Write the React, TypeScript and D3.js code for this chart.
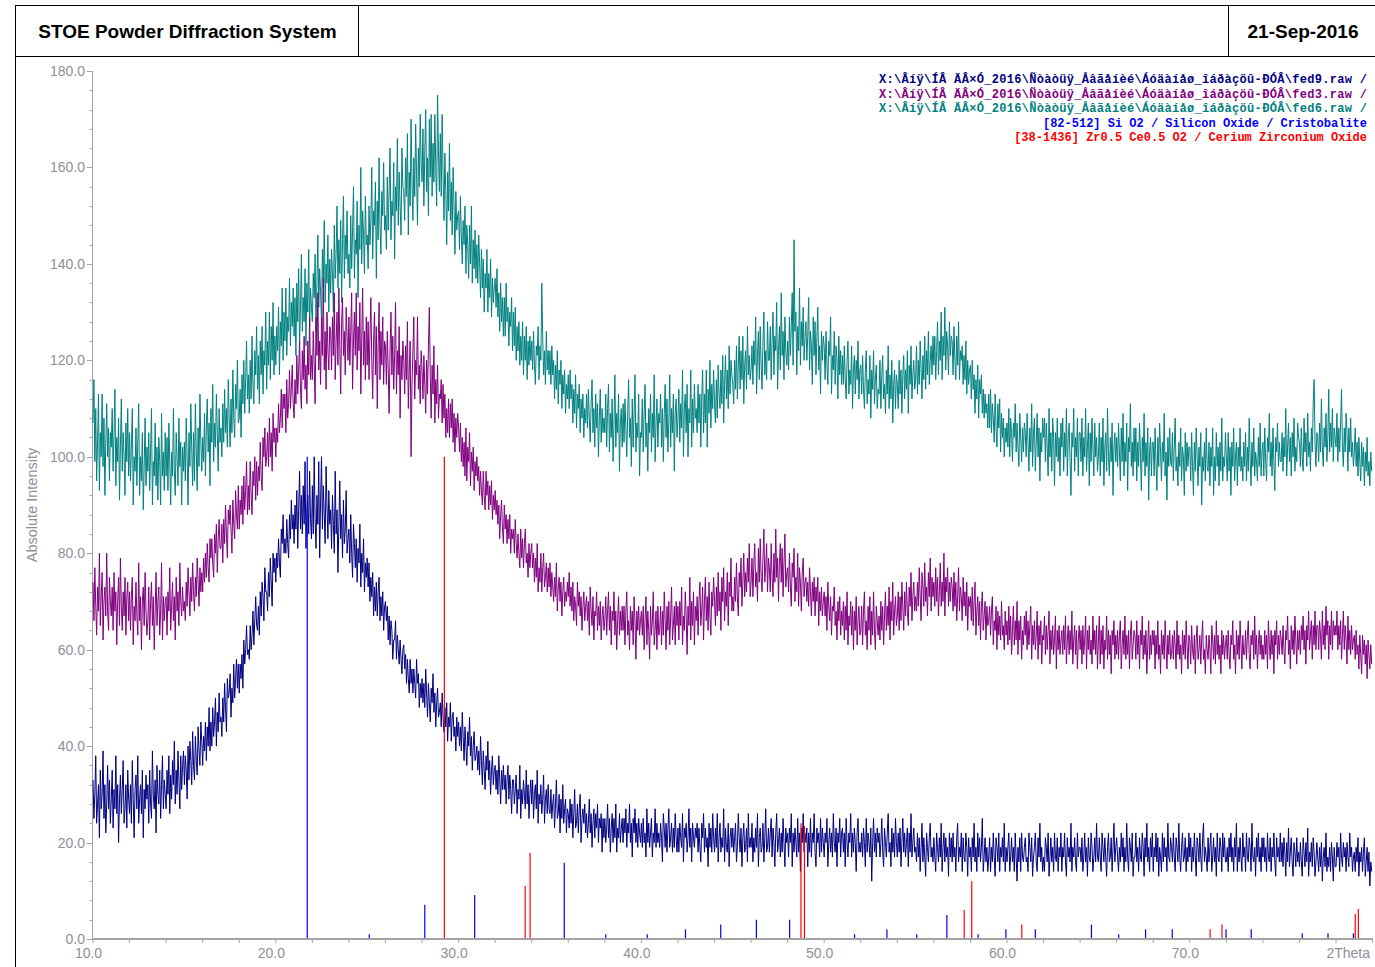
import React from "react";
import * as d3 from "d3";

// Each row = one degree of 2Theta, starting at 10.0; values sampled evenly within the degree.
const FIRST_DEG = 10;

// fed9.raw (navy)
const FED9: number[][] = [
[33,25,30,38,24,28,32,21,35,27,30,39,25,32,22,28,36,27,33,24],
[29,35,23,31,27,38,26,32,20,29,34,26,31,37,24,27,32,23,35,29],
[26,32,24,37,29,21,31,34,27,38,24,29,32,26,35,21,31,27,34,29],
[32,24,35,28,25,39,30,27,33,22,36,30,28,35,25,32,38,27,33,30],
[27,35,30,38,26,34,29,37,32,41,28,35,30,39,33,27,38,31,36,39],
[32,38,35,29,40,33,41,37,32,43,36,33,42,37,34,44,39,36,45,41],
[36,42,39,45,37,44,40,48,39,45,40,48,42,45,50,40,47,43,51,45],
[46,42,50,45,53,48,43,54,50,51,55,46,52,49,57,50,54,58,52,57],
[51,57,54,59,52,62,57,60,65,59,60,58,65,60,63,68,61,66,71,65],
[64,69,63,72,67,74,71,66,77,72,72,68,76,71,79,74,69,80,76,79],
[74,80,77,83,78,75,85,82,88,80,83,80,87,82,79,88,83,91,85,88],
[82,90,85,93,81,89,97,85,92,84,94,86,99,81,89,92,84,97,87,83],
[94,84,100,87,81,92,86,99,79,91,100,85,94,88,82,98,90,83,93,86],
[89,81,92,86,80,97,84,89,76,86,95,83,88,79,91,82,85,93,80,83],
[85,78,88,80,75,86,82,77,83,74,81,78,86,73,80,76,83,72,78,75],
[79,73,78,70,75,71,76,67,73,68,74,67,72,75,66,71,67,72,64,69],
[70,66,69,62,67,61,66,64,58,62,62,66,58,63,60,57,62,58,55,60],
[61,56,59,53,58,54,51,58,53,56,51,56,53,50,58,53,55,48,53,50],
[54,49,53,48,56,51,46,53,49,45,52,49,55,47,51,44,49,52,46,47],
[49,44,51,46,43,48,44,49,41,46,44,49,41,46,47,42,44,39,46,42],
[45,40,44,39,47,42,37,44,40,36,43,40,46,38,42,35,40,43,37,38],
[40,35,39,34,42,37,32,39,35,31,38,35,41,33,37,30,35,38,32,35],
[36,31,35,30,38,33,28,35,31,36,31,34,28,33,36,29,34,31,26,33],
[33,28,31,34,26,31,29,36,25,31,28,33,30,27,35,28,32,25,30,33],
[28,33,25,30,32,27,35,24,30,28,32,26,29,34,24,29,31,26,32,27],
[26,31,25,28,30,23,28,33,25,26,30,22,29,25,32,24,27,29,22,27],
[26,23,29,24,28,21,26,31,23,24,28,22,27,30,20,25,27,24,28,22],
[26,21,24,29,22,26,19,24,27,21,26,23,28,20,25,23,26,18,25,21],
[25,20,23,28,21,25,18,23,26,20,25,21,28,18,23,21,26,20,23,25],
[20,25,22,27,19,24,22,28,20,24,17,25,22,27,20,24,19,25,22,20],
[24,19,25,20,22,17,27,20,24,19,22,25,17,22,20,27,19,24,20,22],
[19,24,21,16,26,23,19,24,18,23,27,19,21,24,18,23,19,26,21,18],
[23,18,24,21,19,26,16,23,21,24,18,21,27,19,23,16,24,21,19,23],
[21,24,18,23,19,16,24,21,26,18,23,19,21,15,24,19,23,18,26,21],
[18,23,19,26,16,21,24,18,21,19,27,16,23,19,18,24,15,21,23,19],
[23,18,21,24,16,19,26,21,18,23,15,21,24,18,19,23,16,26,19,21],
[19,24,16,21,18,23,19,26,15,21,23,18,19,24,16,21,27,18,19,23],
[18,22,25,17,23,20,15,22,26,18,20,23,17,22,18,25,20,15,23,20],
[22,17,23,20,26,15,22,18,23,20,17,25,18,22,14,23,20,26,18,22],
[20,23,15,22,18,25,17,22,20,26,18,15,23,20,22,17,25,18,23,20],
[17,22,20,25,15,20,23,18,22,17,26,20,18,23,15,22,20,25,17,22],
[23,18,22,15,25,20,17,22,20,26,17,22,18,23,20,14,22,25,18,20],
[18,22,17,23,20,15,25,18,22,20,17,23,12,20,25,18,22,17,23,20],
[22,17,20,25,18,15,23,20,17,22,26,18,20,15,23,18,22,17,25,20],
[17,22,18,23,15,20,25,18,22,17,20,23,15,22,18,26,17,20,23,18],
[19,16,22,17,21,14,19,24,16,21,17,13,22,19,16,21,24,17,19,16],
[21,17,14,22,19,16,21,17,24,14,19,22,16,21,17,19,13,22,17,21],
[16,22,17,19,14,21,24,16,19,17,22,14,21,17,16,22,19,13,21,17],
[19,14,21,17,24,16,19,14,22,17,21,16,19,25,14,17,21,16,19,14],
[17,21,14,19,16,22,17,13,21,19,16,22,14,19,17,21,16,24,14,19],
[16,19,22,14,17,21,16,19,14,22,17,12,19,16,21,14,22,17,16,19],
[21,16,17,14,22,19,16,21,13,17,19,22,16,14,21,17,24,16,19,14],
[17,14,21,19,16,22,13,17,21,16,19,14,22,17,16,21,14,19,17,22],
[14,19,17,22,16,13,21,17,19,16,24,14,19,17,21,16,14,22,17,19],
[19,16,21,14,17,22,16,19,13,21,17,16,22,19,14,17,21,16,24,17],
[16,21,17,14,22,19,16,21,17,13,19,22,16,17,21,14,19,24,16,19],
[21,17,14,19,16,22,17,21,14,19,16,24,17,14,21,19,16,22,13,17],
[17,22,16,19,14,21,17,16,22,19,13,21,17,24,16,19,14,21,17,22],
[14,19,17,22,16,21,13,19,17,14,22,16,21,17,19,14,24,17,16,21],
[19,16,22,17,14,21,19,16,24,17,14,19,22,16,17,21,14,19,16,22],
[17,21,14,19,16,22,17,13,21,19,16,22,17,14,21,24,16,19,17,14],
[21,16,19,22,14,17,21,16,19,13,22,17,16,21,19,14,22,17,21,16],
[16,19,14,21,17,22,16,19,14,21,17,24,14,19,16,21,17,14,22,17],
[19,14,22,17,16,21,19,14,24,17,16,19,13,21,17,22,16,19,14,21],
[17,21,16,19,14,22,17,16,21,14,19,17,22,16,13,21,17,19,16,22],
[16,20,15,21,18,13,20,16,23,15,18,21,16,13,20,18,15,21,16,18],
[15,20,16,13,21,18,15,20,16,23,13,18,16,20,15,21,18,13,16,20],
[17,14,19,15,20,12,17,19,15,22,14,17,15,19,14,20,17,12,19,15],
[15,20,17,19,14,22,17,15,20,17,19,14,20,17,15,22,17,19,14,17],
[18,14,19,16,21,13,18,16,19,14,18,21,13,16,19,14,18,11,16,14],
];

// fed3.raw (purple)
const FED3: number[][] = [
[74,66,77,69,63,73,68,80,65,71,76,62,70,73,67,80,68,64,75,70],
[67,73,64,76,68,72,61,70,75,65,79,69,64,72,67,75,63,71,74,66],
[72,64,71,75,61,69,66,74,67,63,78,66,71,60,70,73,65,76,68,63],
[66,73,62,70,74,65,71,60,68,76,65,70,73,63,68,78,62,71,66,70],
[71,63,72,68,77,64,69,74,66,71,62,75,68,72,65,78,70,67,73,68],
[70,66,74,69,77,72,67,75,70,78,72,68,75,71,79,74,69,77,72,76],
[72,79,74,80,75,82,77,74,83,79,83,78,75,84,80,86,76,83,87,81],
[81,86,78,87,82,90,84,79,89,86,90,85,80,91,86,83,93,88,85,94],
[85,91,88,94,86,96,89,93,99,88,94,89,99,92,88,97,94,100,91,99],
[92,98,95,103,96,93,104,100,106,98,100,105,98,108,100,105,97,109,103,106],
[100,106,103,111,105,108,114,106,113,110,113,105,116,108,111,118,110,114,119,111],
[108,116,111,121,113,118,124,114,110,122,116,125,114,119,111,124,117,129,116,121],
[116,126,119,111,129,121,134,118,124,115,129,121,137,118,126,114,130,122,118,127],
[126,118,129,121,134,116,124,130,119,135,123,113,128,133,121,126,117,131,125,120],
[129,119,126,134,114,124,130,121,134,118,127,122,132,113,124,135,119,126,116,129],
[119,128,116,125,133,120,112,124,130,117,127,110,123,132,116,126,119,129,115,124],
[123,115,126,118,109,122,130,117,125,114,121,132,113,122,117,127,108,121,116,124],
[120,113,123,116,128,110,118,124,100,115,122,129,112,120,117,129,114,119,111,122],
[118,112,121,115,109,120,113,123,131,117,108,119,113,123,107,116,111,119,108,113],
[112,116,107,115,108,113,104,110,105,112,104,111,106,112,103,109,101,108,104,109],
[106,101,107,99,104,98,103,96,106,95,102,99,105,94,101,97,102,93,99,96],
[100,95,98,92,97,93,90,97,92,89,97,92,95,89,94,90,95,87,92,89],
[93,88,91,86,90,83,88,91,85,82,90,85,88,82,87,83,88,80,85,83],
[85,80,87,82,79,84,80,77,85,79,83,77,82,85,78,80,75,82,77,80],
[82,77,80,74,79,75,82,72,77,74,80,72,77,80,73,75,78,72,77,73],
[78,71,76,73,70,75,71,78,68,73,75,70,74,67,72,75,69,72,70,74],
[71,76,69,73,68,74,66,71,69,65,74,69,72,67,71,64,69,72,66,69],
[71,66,70,63,73,68,65,71,62,68,67,72,64,69,65,70,62,67,69,64],
[66,71,63,68,72,64,69,61,68,66,72,63,68,60,66,71,63,68,64,69],
[64,69,61,68,72,63,66,60,69,64,68,61,71,66,58,68,64,69,63,66],
[68,63,69,60,66,71,61,68,64,58,69,63,66,72,61,64,68,60,69,63],
[64,69,61,68,63,72,66,60,69,64,70,61,67,73,62,65,69,61,70,65],
[69,62,70,65,73,61,67,64,72,67,59,69,65,75,62,70,65,72,61,69],
[66,71,63,70,74,65,68,73,62,70,75,66,71,64,74,67,63,72,69,75],
[70,65,73,67,76,68,72,64,75,70,77,66,72,69,76,65,74,71,79,68],
[71,68,75,70,78,71,67,76,73,79,69,74,80,71,76,72,79,74,82,71],
[74,79,71,78,82,73,76,70,81,74,83,75,72,79,85,74,77,82,72,79],
[77,72,82,75,71,80,74,85,75,79,70,78,82,74,81,71,78,84,73,76],
[77,72,80,73,69,78,75,81,70,75,72,80,69,77,74,68,76,79,71,74],
[75,70,74,69,77,72,67,74,70,75,67,73,70,75,65,72,68,73,67,70],
[72,67,71,64,74,69,66,71,63,69,68,73,65,68,62,70,66,71,63,68],
[65,70,62,69,64,72,61,67,65,70,63,69,60,68,64,71,61,66,69,63],
[64,69,61,68,72,63,66,60,69,64,71,61,68,63,72,64,60,69,66,63],
[67,62,70,64,69,61,67,72,64,69,65,73,62,70,66,74,63,68,71,65],
[67,72,64,71,66,74,69,64,72,67,74,68,65,73,69,76,66,71,74,68],
[71,68,74,69,77,71,66,76,73,69,78,70,73,67,76,71,79,68,75,71],
[74,69,77,70,75,67,72,78,69,74,70,80,67,75,72,77,69,74,70,75],
[73,68,76,69,74,66,71,77,68,73,71,66,75,69,72,67,74,64,71,69],
[71,66,73,65,70,74,63,68,71,65,70,62,69,72,64,67,70,62,69,65],
[66,69,63,68,71,61,66,64,69,60,68,63,67,62,70,63,65,60,68,63],
[66,61,69,62,67,59,64,69,61,66,62,70,59,66,62,67,58,64,61,67],
[63,68,60,66,61,65,69,58,65,61,66,60,63,68,58,65,61,66,57,63],
[62,67,59,65,60,64,68,57,64,60,65,59,62,67,56,64,60,65,59,62],
[64,59,65,60,67,57,62,65,59,64,60,68,57,62,65,59,64,56,62,65],
[60,64,57,65,59,62,67,56,64,60,65,59,62,57,67,60,64,59,65,56],
[62,67,57,64,59,65,56,62,60,67,58,64,59,63,55,64,61,66,58,63],
[59,64,58,63,66,56,61,64,59,67,58,63,59,64,56,63,66,58,61,64],
[63,58,66,59,63,56,64,61,67,58,63,59,64,55,61,66,58,63,59,64],
[61,64,56,63,59,66,58,61,55,64,59,63,58,66,61,56,63,59,64,58],
[59,63,58,64,61,56,66,59,63,58,61,55,64,59,63,58,66,61,56,63],
[62,57,65,60,58,63,55,62,65,58,60,63,57,62,66,58,60,55,63,60],
[58,63,60,55,65,62,58,63,57,66,59,63,58,61,55,64,59,63,58,61],
[63,58,64,59,56,63,61,66,58,61,55,64,59,63,58,66,61,56,63,59],
[59,64,58,63,66,59,56,63,61,64,58,67,59,63,56,61,64,59,63,58],
[61,58,64,59,63,56,66,61,58,64,59,63,55,64,61,66,58,63,59,64],
[62,59,65,60,57,64,62,67,59,62,56,65,60,64,59,67,62,57,64,60],
[64,59,65,62,67,60,64,57,65,62,68,60,63,66,58,65,61,68,60,65],
[65,60,66,63,58,68,61,65,60,69,63,66,58,65,61,68,60,66,63,65],
[63,68,60,65,61,66,58,63,68,60,65,62,57,67,60,64,59,65,60,62],
[63,58,64,59,61,56,63,59,55,63,59,62,57,61,54,62,59,56,61,57],
];

// fed6.raw (teal)
const FED6: number[][] = [
[107,116,99,110,95,103,113,93,105,100,113,98,108,92,103,111,100,106,95,105],
[102,110,97,105,114,94,104,99,108,91,102,112,97,105,100,92,107,99,110,96],
[105,95,102,110,90,100,97,106,94,103,111,92,100,95,105,89,98,108,94,102],
[97,105,93,101,110,90,99,96,107,94,102,91,104,99,90,109,96,101,93,105],
[96,104,93,107,99,90,101,96,110,97,92,105,100,94,108,98,103,90,102,97],
[103,95,108,100,90,105,98,111,102,94,105,95,111,101,93,106,98,113,103,97],
[104,99,109,96,106,112,101,107,94,110,103,115,99,107,102,113,105,97,110,103],
[106,100,111,103,114,105,110,102,116,108,102,112,105,118,108,104,115,110,120,107],
[108,114,104,117,111,120,109,116,124,112,117,109,120,112,125,115,111,122,117,127],
[114,121,111,124,117,127,113,122,119,130,114,124,119,130,116,127,120,132,117,125],
[119,127,122,131,117,128,123,135,120,130,124,135,121,129,126,137,123,132,127,135],
[125,133,121,136,128,139,123,131,142,126,133,128,139,123,136,130,143,127,135,131],
[128,138,133,142,126,136,146,131,139,134,128,143,135,149,132,140,136,146,130,141],
[134,143,138,130,148,137,142,152,135,145,138,149,132,145,154,137,146,141,151,138],
[142,135,150,139,147,156,137,145,142,153,133,148,143,160,140,151,146,138,154,144],
[146,139,152,144,149,160,141,151,148,157,137,153,145,162,148,142,155,150,161,147],
[150,143,158,147,155,164,145,153,150,161,141,156,151,166,148,159,152,146,164,156],
[155,149,162,154,167,146,159,152,170,157,149,162,154,169,159,148,164,156,171,161],
[157,168,152,163,172,155,162,150,170,158,171,154,165,157,171,160,152,175,163,155],
[167,154,171,159,149,163,155,144,159,151,165,149,157,146,160,152,142,155,147,150],
[151,143,154,146,140,149,144,152,138,148,144,137,148,140,152,136,145,139,147,137],
[144,136,146,140,133,143,135,141,130,138,135,143,130,138,133,141,129,137,132,135],
[137,131,139,129,134,126,136,128,133,125,133,125,136,128,131,123,130,127,133,122],
[130,123,131,120,127,122,128,119,125,120,128,117,125,120,127,116,124,119,125,120],
[124,118,126,119,115,123,121,127,116,123,120,136,125,117,122,115,126,118,122,117],
[122,115,123,117,120,112,119,114,122,111,118,115,120,110,117,113,118,109,115,112],
[117,110,118,112,115,107,114,109,117,106,113,110,115,105,112,108,113,104,110,107],
[113,106,114,108,103,111,116,105,110,102,113,106,111,100,108,114,103,110,105,108],
[105,113,102,110,115,101,109,104,112,99,107,117,102,109,105,113,97,107,110,102],
[111,103,112,106,100,109,116,104,108,98,112,102,109,117,101,107,104,113,96,105],
[104,112,101,109,115,102,107,97,110,105,113,101,109,104,117,99,107,112,102,109],
[107,113,102,110,99,109,115,104,112,101,107,117,102,110,105,113,97,109,112,104],
[108,114,103,111,106,118,100,110,113,105,115,100,110,107,118,102,112,105,115,108],
[110,105,115,107,113,102,112,118,105,113,107,118,102,114,109,120,106,115,110,118],
[111,107,116,108,119,113,110,118,111,121,107,115,121,112,118,110,123,113,120,117],
[115,111,120,114,123,112,119,125,114,122,116,125,111,119,122,114,127,117,121,116],
[118,123,115,124,119,129,113,121,126,116,127,119,114,124,130,117,122,116,128,120],
[120,127,116,124,130,117,125,122,132,114,122,127,118,134,121,126,116,129,122,119],
[124,118,129,121,127,134,119,145,126,130,117,127,122,135,119,128,123,131,120,125],
[128,120,125,133,118,126,123,115,129,121,128,117,125,131,118,123,113,126,120,125],
[123,116,126,119,115,124,121,129,113,121,118,126,115,123,120,112,125,117,122,115],
[121,115,123,116,112,120,124,113,118,115,123,110,118,121,113,120,116,124,112,118],
[119,113,121,114,110,118,122,111,116,113,121,108,118,114,122,111,116,119,110,114],
[113,120,110,117,121,112,115,109,118,113,123,110,117,112,120,107,115,118,110,117],
[115,110,120,113,118,109,117,121,112,118,114,122,109,119,115,123,112,117,120,114],
[116,123,113,120,115,124,118,112,121,116,125,114,122,117,126,115,120,123,117,125],
[119,125,116,122,128,117,124,120,130,116,125,121,131,118,126,123,117,128,121,125],
[124,117,127,120,116,125,119,128,116,122,120,123,115,121,116,124,113,120,115,118],
[119,112,120,114,117,109,116,112,119,108,116,113,117,109,114,108,113,109,111,106],
[113,106,114,105,111,108,103,113,106,102,111,106,112,101,109,104,108,100,106,103],
[107,102,110,100,108,105,99,107,104,111,101,107,102,98,109,104,99,106,101,107],
[105,100,109,103,97,106,101,111,98,105,108,97,103,109,100,106,95,105,101,108],
[104,108,99,107,102,96,110,100,105,97,108,104,94,105,100,108,99,104,96,107],
[102,108,97,105,100,110,96,104,107,99,92,105,102,110,97,104,100,108,96,105],
[105,99,108,96,104,100,110,97,102,107,94,105,99,108,102,96,107,100,104,97],
[100,107,96,104,99,108,94,102,105,97,110,100,96,104,99,107,92,102,105,99],
[104,98,107,101,95,106,99,109,96,103,99,107,93,104,101,111,98,103,96,106],
[99,106,95,103,98,107,101,93,104,99,109,96,103,98,106,91,101,104,96,103],
[103,96,106,99,93,104,98,107,101,95,103,99,109,96,101,91,104,98,106,99],
[98,105,95,102,108,97,100,94,103,98,106,95,102,100,92,105,97,103,98,102],
[102,95,105,98,92,103,97,106,100,94,102,98,105,90,100,97,103,95,106,98],
[97,103,94,102,98,106,92,100,95,105,98,102,94,103,97,108,95,100,98,105],
[100,95,105,97,102,92,103,98,106,95,100,103,94,102,98,106,97,100,95,103],
[98,105,95,102,97,108,100,94,103,98,106,96,101,99,95,104,98,107,96,101],
[103,96,106,99,95,104,101,109,98,103,96,106,99,93,104,101,107,98,103,99],
[99,105,97,104,100,110,96,102,107,99,104,96,105,100,108,97,102,99,107,104],
[103,98,106,100,97,108,101,105,98,109,100,103,97,106,101,111,116,103,98,105],
[104,99,107,101,112,102,98,106,102,109,99,104,114,101,107,102,110,99,106,104],
[102,109,99,106,101,107,114,102,98,106,101,109,105,97,106,101,108,100,103,98],
[101,106,98,103,96,104,99,95,103,98,102,94,101,97,104,96,99,94,101,97],
];

// [82-512] Si O2 / Silicon Oxide / Cristobalite
const SIO2_POS = [21.72, 25.11, 28.15, 30.88, 35.78, 38.05, 40.32, 42.41, 44.34, 46.29, 48.11, 51.66, 53.43, 55.06, 56.71, 58.42, 59.94, 61.55, 64.62, 66.11, 67.58, 69.04, 71.98, 73.36, 76.15, 77.56, 78.95];
const SIO2_INT = [100, 1, 7.1, 9.1, 15.8, 1, 1, 2, 3, 4, 4, 1, 2, 1, 5, 1, 2, 2, 3, 1, 2, 2, 2, 2, 1.2, 1.2, 1.2];

// [38-1436] Zr0.5 Ce0.5 O2 / Cerium Zirconium Oxide
const CEZR_POS = [29.22, 33.64, 33.91, 48.73, 48.92, 57.66, 58.07, 60.81, 71.11, 71.76, 79.05, 79.22];
const CEZR_INT = [100, 11, 17.9, 24, 23.4, 6, 12, 3, 2, 3, 5.2, 6.2];

const Y_TICKS = d3.range(0, 181, 4);
const Y_LABELS = [0, 20, 40, 60, 80, 100, 120, 140, 160, 180];
const X_TICKS = d3.range(10, 81, 2);
const X_LABELS = ["10.0", "20.0", "30.0", "40.0", "50.0", "60.0", "70.0", "2Theta"];

const LEGEND_TEXT = [
  "X:\\Âíÿ\\ÍÂ ÄÂ×Ó_2016\\Ñòàòüÿ_Åâãåíèé\\Áóäàíåø_îáðàçöû-ÐÓÂ\\fed9.raw /",
  "X:\\Âíÿ\\ÍÂ ÄÂ×Ó_2016\\Ñòàòüÿ_Åâãåíèé\\Áóäàíåø_îáðàçöû-ÐÓÂ\\fed3.raw /",
  "X:\\Âíÿ\\ÍÂ ÄÂ×Ó_2016\\Ñòàòüÿ_Åâãåíèé\\Áóäàíåø_îáðàçöû-ÐÓÂ\\fed6.raw /",
  "[82-512] Si O2 / Silicon Oxide / Cristobalite",
  "[38-1436] Zr0.5 Ce0.5 O2 / Cerium Zirconium Oxide",
];
const LEGEND_COLOR = ["#000080", "#800080", "#008080", "#0000FF", "#FF0000"];

const SANS = "'Liberation Sans', Arial, Helvetica, sans-serif";
const MONO = "'Liberation Mono', 'Courier New', monospace";
const GREY_TEXT = "#8f8f9a";
const AXIS = "#a3a3a3";

type Pt = [number, number];

function flatten(rows: number[][]): Pt[] {
  const pts: Pt[] = [];
  rows.forEach((row, k) => {
    row.forEach((v, j) => {
      pts.push([FIRST_DEG + k + j / row.length, v]);
    });
  });
  return pts;
}

export default function App() {
  const x = d3.scaleLinear().domain([10, 80]).range([93, 1372.6]);
  const y = d3.scaleLinear().domain([0, 180]).range([939, 71]);

  const line = d3
    .line<Pt>()
    .x((d) => x(d[0]))
    .y((d) => y(d[1]));

  const series = [
    { data: flatten(FED6), color: "#008080" },
    { data: flatten(FED3), color: "#800080" },
    { data: flatten(FED9), color: "#000080" },
  ];

  return (
    <svg
      width={1375}
      height={967}
      style={{ position: "absolute", left: 0, top: 0, background: "#fff" }}
    >
      <rect x={0} y={0} width={1375} height={967} fill="#fff" />
      <rect x={15.5} y={5.5} width={1420} height={1000} fill="none" stroke="#000" strokeWidth={1} />
      <line x1={15} x2={1375} y1={56.5} y2={56.5} stroke="#000" />
      <line x1={358.5} x2={358.5} y1={5} y2={56} stroke="#000" />
      <line x1={1228.5} x2={1228.5} y1={5} y2={56} stroke="#000" />
      <text x={187.5} y={38} textAnchor="middle" fontFamily={SANS} fontWeight="bold" fontSize={19} fill="#000">
        STOE Powder Diffraction System
      </text>
      <text x={1303} y={38} textAnchor="middle" fontFamily={SANS} fontWeight="bold" fontSize={19} fill="#000">
        21-Sep-2016
      </text>

      <line x1={92.5} x2={92.5} y1={y(180)} y2={y(0)} stroke={AXIS} strokeWidth={1} />
      {Y_TICKS.map((t) => (
        <line
          key={"yt" + t}
          x1={t % 20 === 0 ? 87 : 89.5}
          x2={92.5}
          y1={Math.round(y(t)) + 0.5}
          y2={Math.round(y(t)) + 0.5}
          stroke={AXIS}
        />
      ))}
      {Y_LABELS.map((t) => (
        <text key={"yl" + t} x={85} y={y(t) + 5} textAnchor="end" fontFamily={SANS} fontSize={14} fill={GREY_TEXT}>
          {t.toFixed(1)}
        </text>
      ))}
      <text transform="translate(37,505) rotate(-90)" textAnchor="middle" fontFamily={SANS} fontSize={14.5} fill={GREY_TEXT}>
        Absolute Intensity
      </text>

      {series.map((s, i) => (
        <path key={"s" + i} d={line(s.data) || ""} fill="none" stroke={s.color} strokeWidth={1} strokeLinejoin="round" />
      ))}

      {X_TICKS.map((t) => (
        <line key={"xt" + t} x1={x(t)} x2={x(t)} y1={939} y2={943} stroke={AXIS} />
      ))}
      {X_LABELS.map((lab, i) => {
        const v = 10 + i * 10;
        const last = lab === "2Theta";
        return (
          <text
            key={"xl" + i}
            x={last ? 1370 : x(v) - 4.5}
            y={958}
            textAnchor={last ? "end" : "middle"}
            fontFamily={SANS}
            fontSize={14}
            fill={GREY_TEXT}
          >
            {lab}
          </text>
        );
      })}

      {SIO2_POS.map((p, i) => (
        <line key={"b" + i} x1={x(p)} x2={x(p)} y1={y(0)} y2={y(SIO2_INT[i])} stroke="#0000FF" strokeWidth={1.2} />
      ))}
      {CEZR_POS.map((p, i) => (
        <line key={"r" + i} x1={x(p)} x2={x(p)} y1={y(0)} y2={y(CEZR_INT[i])} stroke="#FF0000" strokeWidth={1.2} />
      ))}
      <line x1={92} x2={x(80)} y1={939} y2={939} stroke={AXIS} strokeWidth={2} />

      {LEGEND_TEXT.map((t, i) => (
        <text
          key={"lg" + i}
          x={1367}
          y={83 + i * 14.5}
          textAnchor="end"
          fontFamily={MONO}
          fontWeight="bold"
          fontSize={12}
          fill={LEGEND_COLOR[i]}
          {...(i < 3 ? { textLength: 488, lengthAdjust: "spacing" } : {})}
        >
          {t}
        </text>
      ))}
    </svg>
  );
}
